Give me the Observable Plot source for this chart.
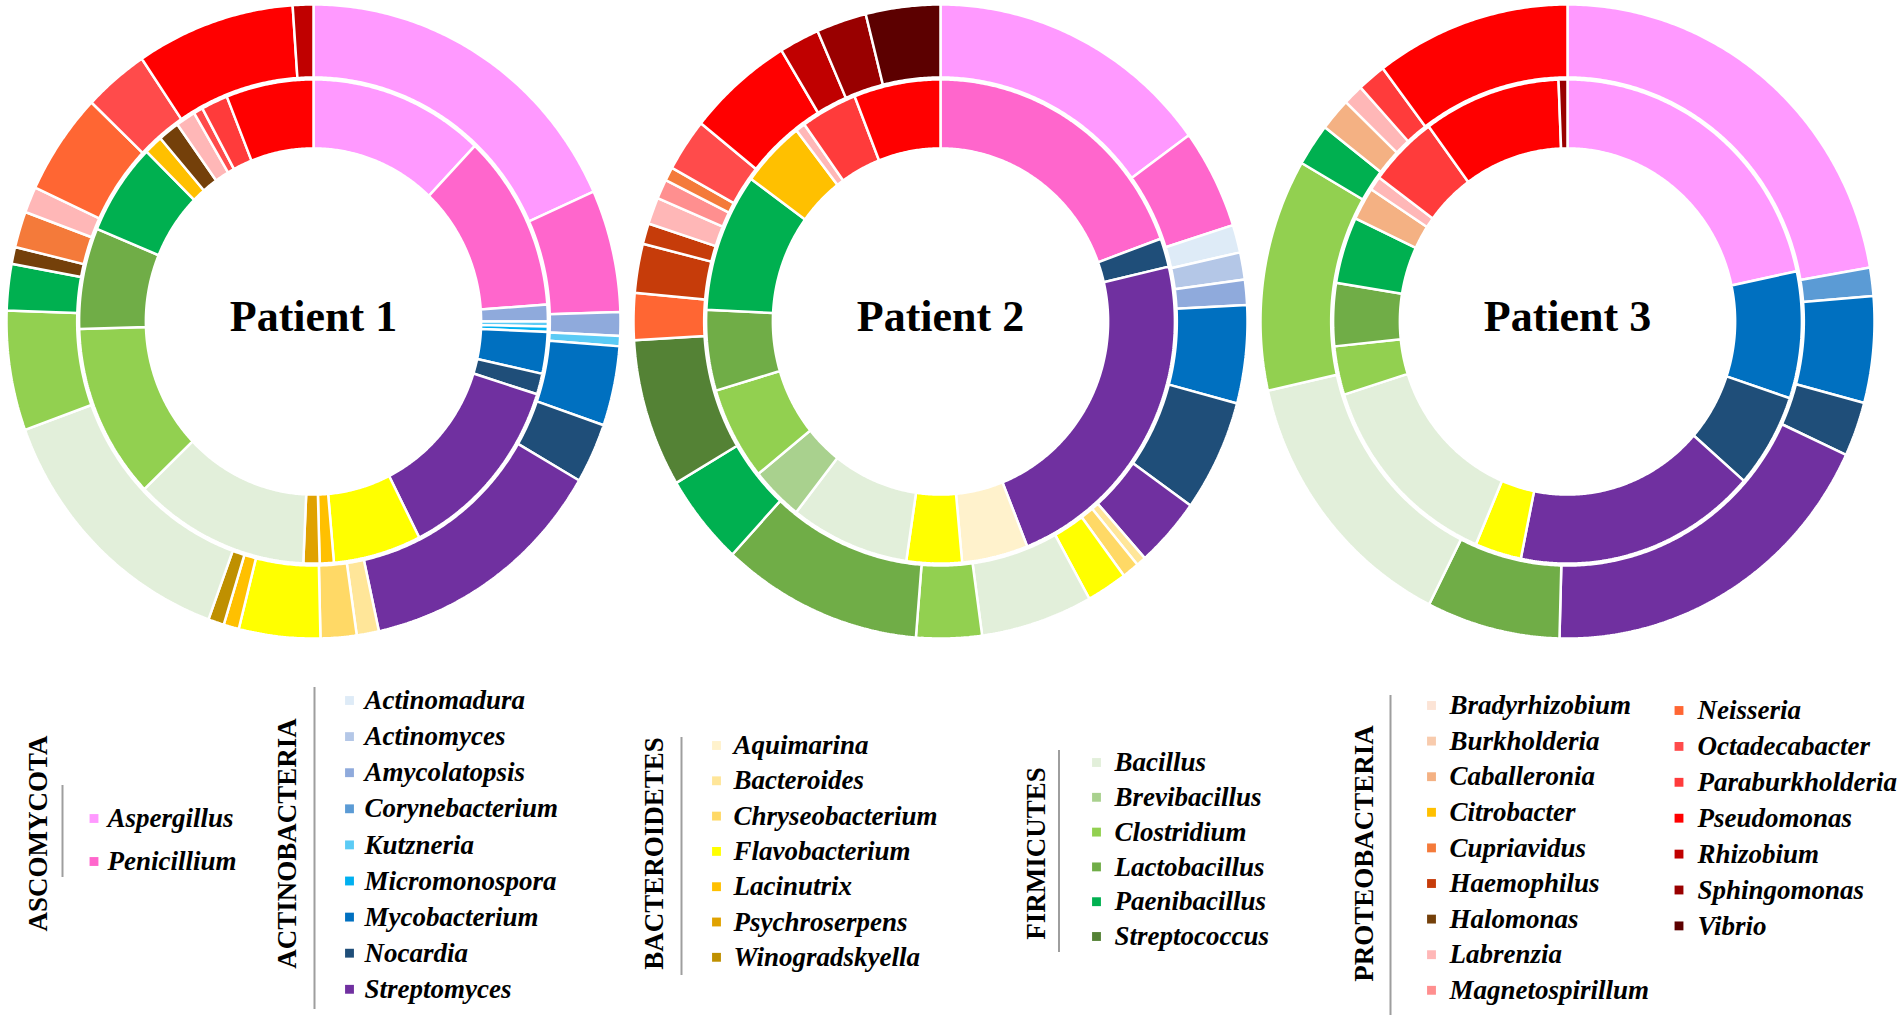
<!DOCTYPE html>
<html>
<head>
<meta charset="utf-8">
<script src="https://cdn.jsdelivr.net/npm/d3@7"></script>
<script src="https://cdn.jsdelivr.net/npm/@observablehq/plot@0.6"></script>
<style>
  html, body { margin: 0; padding: 0; background: #ffffff; }
  #chart svg { display: block; }
</style>
</head>
<body>
<div id="chart"></div>
<script>
// ---------------- DATA ----------------
const patients = ["Patient 1", "Patient 2", "Patient 3"];

// relative abundance of each genus, clockwise from 12 o'clock (values are relative shares)
const patient1Inner = [
  ["Aspergillus", 43.5], ["Penicillium", 42.5], ["Amycolatopsis", 4.0], ["Kutzneria", 1.2],
  ["Micromonospora", 1.3], ["Mycobacterium", 10.0], ["Nocardia", 5.0], ["Streptomyces", 45.7],
  ["Flavobacterium", 21.8], ["Lacinutrix", 3.5], ["Psychroserpens", 4.0], ["Bacillus", 43.7],
  ["Clostridium", 42.0], ["Lactobacillus", 24.3], ["Paenibacillus", 22.1], ["Citrobacter", 4.6],
  ["Halomonas", 5.3], ["Labrenzia", 4.9], ["Octadecabacter", 2.3], ["Paraburkholderia", 6.6],
  ["Pseudomonas", 21.7]
];
const patient1Outer = [
  ["Aspergillus", 65.8], ["Penicillium", 22.5], ["Amycolatopsis", 4.3], ["Kutzneria", 1.9],
  ["Mycobacterium", 14.6], ["Nocardia", 11.0], ["Streptomyces", 47.6], ["Bacteroides", 4.2],
  ["Chryseobacterium", 6.8], ["Flavobacterium", 15.4], ["Lacinutrix", 2.9], ["Winogradskyella", 3.0],
  ["Bacillus", 50.0], ["Clostridium", 22.0], ["Paenibacillus", 8.5], ["Halomonas", 3.1],
  ["Cupriavidus", 6.6], ["Labrenzia", 4.8], ["Neisseria", 18.7], ["Octadecabacter", 12.3],
  ["Pseudomonas", 30.1], ["Rhizobium", 3.9]
];
const patient2Inner = [
  ["Penicillium", 70.0], ["Nocardia", 6.9], ["Streptomyces", 81.4], ["Aquimarina", 16.4],
  ["Flavobacterium", 13.7], ["Bacillus", 29.6], ["Brevibacillus", 13.0], ["Clostridium", 22.4],
  ["Lactobacillus", 19.4], ["Paenibacillus", 33.3], ["Citrobacter", 16.0], ["Labrenzia", 2.4],
  ["Paraburkholderia", 14.0], ["Pseudomonas", 21.5]
];
const patient2Outer = [
  ["Aspergillus", 54.0], ["Penicillium", 18.3], ["Actinomadura", 5.1], ["Actinomyces", 5.0],
  ["Amycolatopsis", 4.6], ["Mycobacterium", 18.0], ["Nocardia", 20.5], ["Streptomyces", 12.8],
  ["Bacteroides", 1.8], ["Chryseobacterium", 3.2], ["Flavobacterium", 7.7], ["Bacillus", 21.2],
  ["Clostridium", 12.4], ["Lactobacillus", 38.1], ["Paenibacillus", 16.7], ["Streptococcus", 27.2],
  ["Neisseria", 8.6], ["Haemophilus", 9.0], ["Haemophilus", 3.8], ["Labrenzia", 4.9],
  ["Magnetospirillum", 3.6], ["Cupriavidus", 2.5], ["Octadecabacter", 9.7], ["Pseudomonas", 20.1],
  ["Rhizobium", 7.6], ["Sphingomonas", 9.5], ["Vibrio", 14.1]
];
const patient3Inner = [
  ["Aspergillus", 78.0], ["Mycobacterium", 30.5], ["Nocardia", 22.7], ["Streptomyces", 60.3],
  ["Flavobacterium", 11.5], ["Bacillus", 49.4], ["Clostridium", 11.7], ["Lactobacillus", 15.1],
  ["Paenibacillus", 16.0], ["Caballeronia", 7.9], ["Labrenzia", 3.4], ["Paraburkholderia", 17.2],
  ["Pseudomonas", 34.1], ["Sphingomonas", 2.2]
];
const patient3Outer = [
  ["Aspergillus", 80.2], ["Corynebacterium", 5.2], ["Mycobacterium", 19.5], ["Nocardia", 10.0],
  ["Streptomyces", 66.6], ["Lactobacillus", 25.3], ["Bacillus", 50.6], ["Clostridium", 42.6],
  ["Paenibacillus", 7.8], ["Caballeronia", 6.0], ["Labrenzia", 3.8], ["Paraburkholderia", 5.4],
  ["Pseudomonas", 37.0]
];

// legend groups (phylum -> genera)
const phyla = ["ASCOMYCOTA", "ACTINOBACTERIA", "BACTEROIDETES", "FIRMICUTES", "PROTEOBACTERIA"];
const ascomycota = ["Aspergillus", "Penicillium"];
const actinobacteria = ["Actinomadura", "Actinomyces", "Amycolatopsis", "Corynebacterium", "Kutzneria",
  "Micromonospora", "Mycobacterium", "Nocardia", "Streptomyces"];
const bacteroidetes = ["Aquimarina", "Bacteroides", "Chryseobacterium", "Flavobacterium", "Lacinutrix",
  "Psychroserpens", "Winogradskyella"];
const firmicutes = ["Bacillus", "Brevibacillus", "Clostridium", "Lactobacillus", "Paenibacillus", "Streptococcus"];
const proteobacteria = ["Bradyrhizobium", "Burkholderia", "Caballeronia", "Citrobacter", "Cupriavidus",
  "Haemophilus", "Halomonas", "Labrenzia", "Magnetospirillum", "Neisseria", "Octadecabacter",
  "Paraburkholderia", "Pseudomonas", "Rhizobium", "Sphingomonas", "Vibrio"];

// ---------------- STYLE ----------------
const genusOrder = [...ascomycota, ...actinobacteria, ...bacteroidetes, ...firmicutes, ...proteobacteria];
const genusColors = [
  "#ff99ff", "#ff66cc",
  "#deebf7", "#b4c7e7", "#8faadc", "#5b9bd5", "#5bcbf5", "#00b0f0", "#0070c0", "#1f4e79", "#7030a0",
  "#fff2cc", "#ffe699", "#ffd966", "#ffff00", "#ffc000", "#e0a200", "#bf9000",
  "#e2efda", "#a9d18e", "#92d050", "#70ad47", "#00b050", "#548235",
  "#fce4d6", "#f8cbad", "#f4b183", "#ffc000", "#f47a3a", "#c63c0a", "#74400a", "#ffb7b7",
  "#ff8f8f", "#ff6633", "#ff4b4b", "#ff3b3b", "#ff0000", "#c00000", "#990000", "#5c0000"
];
const colorScale = {type: "ordinal", domain: genusOrder, range: genusColors};

const W = 1902;
const donutH = 645;
const legendH = 1022 - donutH;
const FONT = "'Liberation Serif', 'Times New Roman', serif";

// donut geometry (in units of outer radius)
const pxPerUnitX = 307, pxPerUnitY = 317;
const centerX0 = 313, centerY = 321, centerStep = 627;
const patientOffset = centerStep / pxPerUnitX;
const ringRadii = {inner: [172 / 315, 240.5 / 315], outer: [242.5 / 315, 1]};
const rings = [
  [0, "inner", patient1Inner], [0, "outer", patient1Outer],
  [1, "inner", patient2Inner], [1, "outer", patient2Outer],
  [2, "inner", patient3Inner], [2, "outer", patient3Outer]
];

const polyRows = [];
for (const [p, ring, slices] of rings) {
  const [r0, r1] = ringRadii[ring];
  const total = d3.sum(slices, d => d[1]);
  let acc = 0;
  slices.forEach(([genus, value], k) => {
    const a0 = acc / total * 2 * Math.PI;
    acc += value;
    const a1 = acc / total * 2 * Math.PI;
    const n = Math.max(2, Math.ceil((a1 - a0) / (Math.PI / 360)));
    const id = p + "-" + ring + "-" + k;
    const pts = [];
    for (let i = 0; i <= n; i++) { const a = a0 + (a1 - a0) * i / n; pts.push([r1 * Math.sin(a), r1 * Math.cos(a)]); }
    for (let i = n; i >= 0; i--) { const a = a0 + (a1 - a0) * i / n; pts.push([r0 * Math.sin(a), r0 * Math.cos(a)]); }
    pts.push(pts[0]);
    for (const [u, v] of pts) polyRows.push({id, genus, u: u + p * patientOffset, v});
  });
}

const donutPlot = Plot.plot({
  width: W, height: donutH,
  margin: 0,
  x: {domain: [-centerX0 / pxPerUnitX, (W - centerX0) / pxPerUnitX], axis: null},
  y: {domain: [-(donutH - centerY) / pxPerUnitY, centerY / pxPerUnitY], axis: null},
  color: colorScale,
  marks: [
    Plot.line(polyRows, {x: "u", y: "v", z: "id", fill: "genus", stroke: "white", strokeWidth: 2.5, strokeLinejoin: "miter"}),
    Plot.text(patients, {x: (d, i) => i * patientOffset, y: 0, dy: -5, text: d => d,
      fontSize: 44, fontWeight: "bold", fontFamily: FONT, fill: "black", textAnchor: "middle", lineAnchor: "middle"})
  ]
});

// ---------------- LEGEND LAYOUT ----------------
const groupLayout = [
  {genera: ascomycota,     labelX: 37.5,   labelY: 833, lineX: 62,     lineY: [785, 877],  cols: [{sx: 93.5, tx: 107, y0: 818, step: 43, n: 2}]},
  {genera: actinobacteria, labelX: 287,    labelY: 843, lineX: 314,    lineY: [687, 1009], cols: [{sx: 349, tx: 364, y0: 700, step: 36.1, n: 9}]},
  {genera: bacteroidetes,  labelX: 653.5,  labelY: 853, lineX: 681,    lineY: [737, 975],  cols: [{sx: 716, tx: 733, y0: 745, step: 35.3, n: 7}]},
  {genera: firmicutes,     labelX: 1035.5, labelY: 853, lineX: 1058.5, lineY: [750, 952],  cols: [{sx: 1096, tx: 1114, y0: 762, step: 34.8, n: 6}]},
  {genera: proteobacteria, labelX: 1363.5, labelY: 853, lineX: 1390,   lineY: [695, 1015], cols: [{sx: 1431, tx: 1449, y0: 705, step: 35.6, n: 9}, {sx: 1678.5, tx: 1697, y0: 710, step: 35.9, n: 7}]}
];

const groups = groupLayout.map((g, i) => ({name: phyla[i], ...g}));
const items = [];
for (const g of groupLayout) {
  let k = 0;
  for (const c of g.cols) {
    for (let j = 0; j < c.n; j++, k++) items.push({genus: g.genera[k], sx: c.sx, tx: c.tx, y: c.y0 + j * c.step});
  }
}

const legendPlot = Plot.plot({
  width: W, height: legendH,
  margin: 0,
  x: {domain: [0, W], range: [0, W], axis: null},
  y: {domain: [donutH, 1022], range: [0, legendH], axis: null},
  color: colorScale,
  marks: [
    Plot.ruleX(groups, {x: "lineX", y1: d => d.lineY[0], y2: d => d.lineY[1], stroke: "#9e9e9e", strokeWidth: 2}),
    Plot.text(groups, {x: "labelX", y: "labelY", text: "name", rotate: -90, fontSize: 27, fontWeight: "bold",
      fontFamily: FONT, fill: "black", textAnchor: "middle", lineAnchor: "middle"}),
    Plot.dot(items, {x: "sx", y: "y", fill: "genus", symbol: "square", r: 5}),
    Plot.text(items, {x: "tx", y: "y", text: "genus", fontSize: 27, fontWeight: "bold", fontStyle: "italic",
      fontFamily: FONT, fill: "black", textAnchor: "start", lineAnchor: "middle"})
  ]
});

const chart = document.getElementById("chart");
chart.appendChild(donutPlot);
chart.appendChild(legendPlot);
</script>
</body>
</html>
